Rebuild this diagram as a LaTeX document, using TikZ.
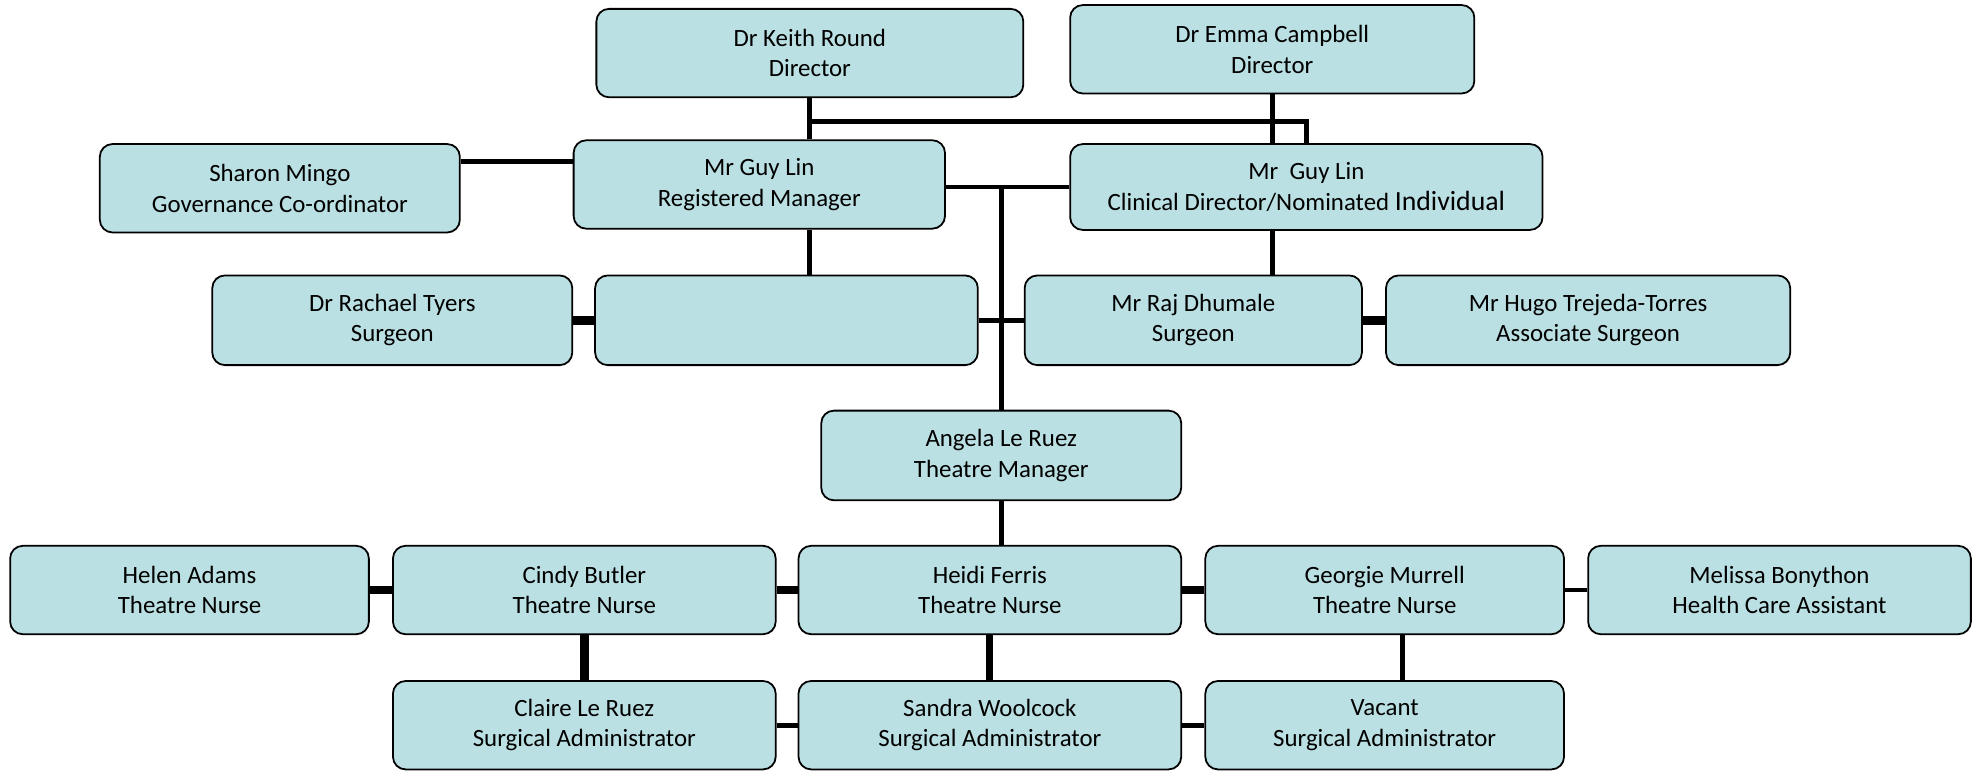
\documentclass[tikz,border=0pt]{standalone}
\usepackage{fontspec}
\setmainfont{Carlito}
\definecolor{boxfill}{RGB}{187,224,227}
\begin{document}
\begin{tikzpicture}[x=0.02cm,y=-0.02cm,
  box/.style={draw=black, line width=0.8pt, rounded corners=0.2cm, fill=boxfill,
    align=center, inner sep=0pt, font=\fontsize{11.2}{13.7}\selectfont},
  conn/.style={line width=2.2pt},
  thickconn/.style={line width=4pt}]
\useasboundingbox (0,0) rectangle (1568,610);
% row 1
\node[box, minimum width=6.76cm, minimum height=1.40cm] (keith) at (641,42) {Dr Keith Round\\Director};
\node[box, minimum width=6.40cm, minimum height=1.40cm] (emma) at (1007,39) {Dr Emma Campbell\\Director};
% row 2
\node[box, minimum width=5.70cm, minimum height=1.40cm] (sharon) at (221.5,149) {Sharon Mingo\\Governance Co-ordinator};
\node[box, minimum width=5.88cm, minimum height=1.40cm] (rm) at (601,146) {Mr Guy Lin\\Registered Manager};
\node[box, minimum width=7.48cm, minimum height=1.36cm] (cd) at (1034,148) {Mr\ \ Guy Lin\\Clinical Director/Nominated {\fontsize{12.5}{13.7}\selectfont Individual}};
% row 3
\node[box, minimum width=5.70cm, minimum height=1.42cm] (rachael) at (310.5,253.5) {Dr Rachael Tyers\\Surgeon};
\node[box, minimum width=6.06cm, minimum height=1.42cm] (empty) at (622.5,253.5) {};
\node[box, minimum width=5.34cm, minimum height=1.42cm] (raj) at (944.5,253.5) {Mr Raj Dhumale\\Surgeon};
\node[box, minimum width=6.40cm, minimum height=1.42cm] (hugo) at (1257,253.5) {Mr Hugo Trejeda-Torres\\Associate Surgeon};
% row 4
\node[box, minimum width=5.70cm, minimum height=1.42cm] (angela) at (792.5,360.5) {Angela Le Ruez\\Theatre Manager};
% row 5
\node[box, minimum width=5.68cm, minimum height=1.40cm] (helen) at (150,467) {Helen Adams\\Theatre Nurse};
\node[box, minimum width=6.06cm, minimum height=1.40cm] (cindy) at (462.5,467) {Cindy Butler\\Theatre Nurse};
\node[box, minimum width=6.06cm, minimum height=1.40cm] (heidi) at (783.5,467) {Heidi Ferris\\Theatre Nurse};
\node[box, minimum width=5.68cm, minimum height=1.40cm] (georgie) at (1096,467) {Georgie Murrell\\Theatre Nurse};
\node[box, minimum width=6.06cm, minimum height=1.40cm] (melissa) at (1408.5,467) {Melissa Bonython\\Health Care Assistant};
% row 6
\node[box, minimum width=6.06cm, minimum height=1.40cm] (claire) at (462.5,574) {Claire Le Ruez\\Surgical Administrator};
\node[box, minimum width=6.06cm, minimum height=1.40cm] (sandra) at (783.5,574) {Sandra Woolcock\\Surgical Administrator};
\node[box, minimum width=5.68cm, minimum height=1.40cm] (vacant) at (1096,574) {Vacant\\Surgical Administrator};
% helper coordinates
\coordinate (ytop) at (0,96);
\coordinate (ysh) at (0,128);
\coordinate (xgm) at (1110,0);
% connectors
\draw[conn] (keith.south) -- (keith.south |- rm.north);
\draw[conn] (keith.south |- ytop) -- (ytop -| cd.north) -- (cd.north);
\draw[conn] (emma.south) -- (emma.south |- cd.north);
\draw[conn] (sharon.east |- ysh) -- (rm.west |- ysh);
\draw[conn] (cd.west -| rm.east) -- (cd.west);
\draw[conn] (angela.north |- cd.west) -- (angela.north);
\draw[conn] (rm.south -| keith.south) -- (empty.north -| keith.south);
\draw[conn] (cd.south -| emma.south) -- (raj.north -| emma.south);
\draw[thickconn] (rachael.east) -- (empty.west);
\draw[conn] (empty.east) -- (raj.west);
\draw[thickconn] (raj.east) -- (hugo.west);
\draw[conn] (angela.south) -- (angela.south |- heidi.north);
\draw[thickconn] (helen.east) -- (cindy.west);
\draw[thickconn] (cindy.east) -- (heidi.west);
\draw[thickconn] (heidi.east) -- (georgie.west);
\draw[conn] (georgie.east) -- (melissa.west);
\draw[thickconn] (cindy.south) -- (claire.north);
\draw[line width=3.2pt] (heidi.south) -- (sandra.north);
\draw[conn] (georgie.south -| xgm) -- (vacant.north -| xgm);
\draw[conn] (claire.east) -- (sandra.west);
\draw[conn] (sandra.east) -- (vacant.west);
\end{tikzpicture}
\end{document}
